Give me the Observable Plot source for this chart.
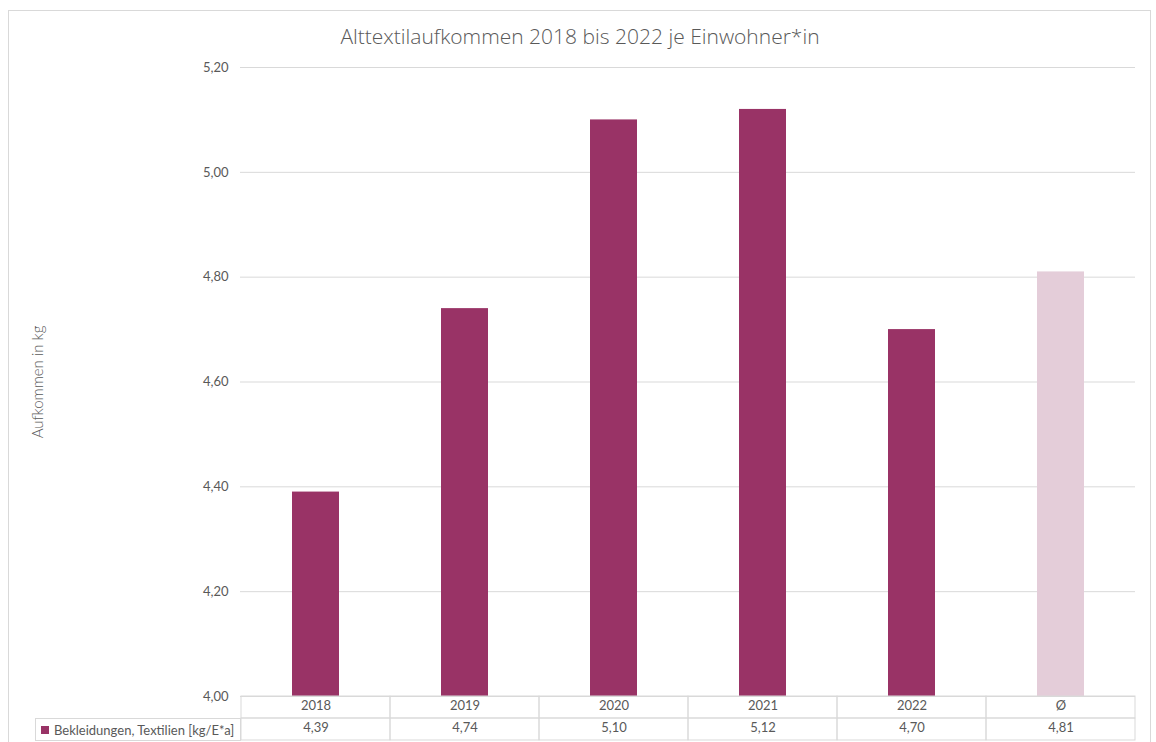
<!DOCTYPE html>
<html>
<head>
<meta charset="utf-8">
<script src="https://cdn.jsdelivr.net/npm/d3@7"></script>
<script src="https://cdn.jsdelivr.net/npm/@observablehq/plot@0.6"></script>
<style>
  html, body { margin: 0; padding: 0; background: #fff; overflow: hidden; }
  #wrap { position: relative; width: 1156px; height: 742px; overflow: hidden; font-family: Lato, "Open Sans", sans-serif; }
  #border { position: absolute; left: 8px; top: 10px; width: 1143px; height: 760px; border: 1px solid #d9d9d9; box-sizing: border-box; }
  #title { position: absolute; left: 8px; width: 1144px; top: 22px; text-align: center; font-family: "Open Sans", sans-serif; font-weight: 300; font-size: 21px; color: #595959; }
  #chart { position: absolute; left: 0; top: 0; }
  #legendCell { position: absolute; left: 35px; top: 718px; width: 206px; height: 23px; border: 1px solid #d9d9d9; box-sizing: border-box; font-size: 13px; color: #595959; display: flex; align-items: center; padding-left: 5px; }
  #legendCell .sw { width: 8px; height: 8px; margin-right: 5px; display: inline-block; }
</style>
</head>
<body>
<div id="wrap">
  <div id="border"></div>
  <div id="chart"></div>
  <div id="title"></div>
  <div id="legendCell"></div>
</div>
<script>
const titleText = "Alttextilaufkommen 2018 bis 2022 je Einwohner*in";
const yLabel = "Aufkommen in kg";
const seriesName = "Bekleidungen, Textilien [kg/E*a]";
const categories = ["2018", "2019", "2020", "2021", "2022", "Ø"];
const values = [4.39, 4.74, 5.10, 5.12, 4.70, 4.81];
const isAverage = [false, false, false, false, false, true];
const yTicks = [4.0, 4.2, 4.4, 4.6, 4.8, 5.0, 5.2];
const barColor = "#993366";
const avgColor = "#e4cdd9";

const data = categories.map((c, i) => ({cat: c, value: values[i], avg: isAverage[i]}));
const fmt = d => d.toFixed(2).replace(".", ",");
const textColor = "#595959";
const lineColor = "#d9d9d9";

const chart = Plot.plot({
  width: 1156,
  height: 742,
  marginLeft: 240,
  marginRight: 21,
  marginTop: 67,
  marginBottom: 46,
  style: {fontFamily: "Lato, 'Open Sans', sans-serif", background: "transparent", color: textColor},
  x: {type: "band", domain: categories, padding: 0, axis: null},
  y: {domain: [4, 5.2], axis: null},
  marks: [
    Plot.gridY(yTicks, {stroke: lineColor, strokeOpacity: 1, strokeWidth: 1}),
    Plot.axisY(yTicks, {tickSize: 0, tickPadding: 12, tickFormat: fmt, fontSize: 13, fill: textColor, label: null}),
    Plot.barY(data.filter(d => !d.avg), {x: "cat", y1: 4, y2: "value", fill: barColor, insetLeft: 51, insetRight: 51}),
    Plot.barY(data.filter(d => d.avg), {x: "cat", y1: 4, y2: "value", fill: avgColor, insetLeft: 51, insetRight: 51}),
    // table: header row cells
    Plot.barY(data, {x: "cat", y1: 4, y2: 4, insetTop: 0, insetBottom: -22, fill: "none", stroke: lineColor}),
    // table: value row cells
    Plot.barY(data, {x: "cat", y1: 4, y2: 4, insetTop: 22, insetBottom: -44, fill: "none", stroke: lineColor}),
    Plot.text(data, {x: "cat", text: "cat", frameAnchor: "bottom", dy: 13, fontSize: 13, fill: textColor}),
    Plot.text(data, {x: "cat", text: d => fmt(d.value), frameAnchor: "bottom", dy: 35, fontSize: 13, fill: textColor}),
    Plot.text([yLabel], {frameAnchor: "left", textAnchor: "middle", dx: -202, rotate: -90, fontSize: 15, fontWeight: 300, fill: textColor})
  ]
});
document.getElementById("chart").appendChild(chart);
document.getElementById("title").textContent = titleText;
const lc = document.getElementById("legendCell");
const sw = document.createElement("span");
sw.className = "sw";
sw.style.background = barColor;
lc.appendChild(sw);
lc.appendChild(document.createTextNode(seriesName));
</script>
</body>
</html>
